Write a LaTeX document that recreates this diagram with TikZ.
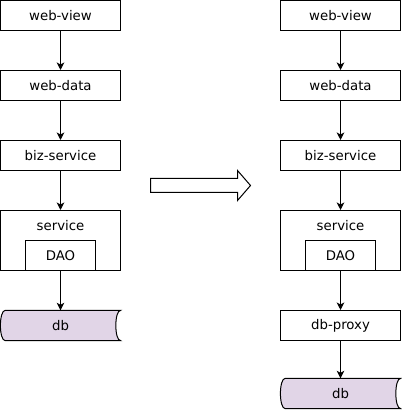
\documentclass[tikz,border=0pt]{standalone}
\usepackage{fontspec}
\setmainfont{DejaVu Sans}
\usetikzlibrary{arrows.meta,backgrounds}
\definecolor{dbfill}{HTML}{E1D5E7}
\begin{document}
\begin{tikzpicture}[x=1pt,y=-1pt,
  txt/.style={font=\fontsize{13.3}{15}\selectfont},
  box/.style={draw=black,line width=1pt,fill=white,minimum width=120pt,minimum height=30pt,inner sep=0pt,txt},
  dbnode/.style={minimum width=120pt,minimum height=30pt,inner sep=0pt,txt},
  dbpath/.style={draw=black,line width=1pt,fill=dbfill},
  conn/.style={line width=1pt,-{Stealth[length=7.5pt,width=7.5pt,inset=2pt]}},
  lbl/.style={inner sep=0pt,txt}]
\useasboundingbox (0,0) rectangle (401,411);
% left column
\node[box] (lv) at (60.5,15.5) {web-view};
\node[box] (ld) at (60.5,85.5) {web-data};
\node[box] (lb) at (60.5,155.5) {biz-service};
\node[box,minimum height=60pt] (ls) at (60.5,240.5) {};
\node[lbl] (lsl) at (60.5,225.5) {service};
\node[box,minimum width=70pt,minimum height=30pt] (ldao) at (60.5,255.5) {DAO};
\node[dbnode] (ldb) at (60.5,325.5) {db};
% right column
\node[box] (rv) at (340.5,15.5) {web-view};
\node[box] (rd) at (340.5,85.5) {web-data};
\node[box] (rb) at (340.5,155.5) {biz-service};
\node[box,minimum height=60pt] (rs) at (340.5,240.5) {};
\node[lbl] (rsl) at (340.5,225.5) {service};
\node[box,minimum width=70pt,minimum height=30pt] (rdao) at (340.5,255.5) {DAO};
\node[box] (rp) at (340.5,325.5) {db-proxy};
\node[dbnode] (rdb) at (340.5,393.5) {db};
% db shapes
\begin{scope}[on background layer]
\foreach \n in {ldb,rdb}{
  \draw[dbpath] ([xshift=5pt]\n.north west) -- (\n.north east)
    .. controls ([xshift=-6.5pt]\n.north east) and ([xshift=-6.5pt]\n.south east) .. (\n.south east)
    -- ([xshift=5pt]\n.south west)
    .. controls ([xshift=-1.5pt]\n.south west) and ([xshift=-1.5pt]\n.north west) .. ([xshift=5pt]\n.north west) -- cycle;
}
\end{scope}
% connectors
\draw[conn] (lv) -- (ld);
\draw[conn] (ld) -- (lb);
\draw[conn] (lb) -- (ls);
\draw[conn] (ldao.south) -- (ldb.north);
\draw[conn] (rv) -- (rd);
\draw[conn] (rd) -- (rb);
\draw[conn] (rb) -- (rs);
\draw[conn] (rdao.south) -- (rp.north);
\draw[conn] (rp) -- (rdb.north);
% block arrow
\coordinate (ba) at (150.5,185.5);
\draw[line width=1pt,fill=white,line join=miter] (ba) ++(0,-7) -- ++(87,0) -- ++(0,-8) -- ++(13,15) -- ++(-13,15) -- ++(0,-8) -- ++(-87,0) -- cycle;
\end{tikzpicture}
\end{document}
